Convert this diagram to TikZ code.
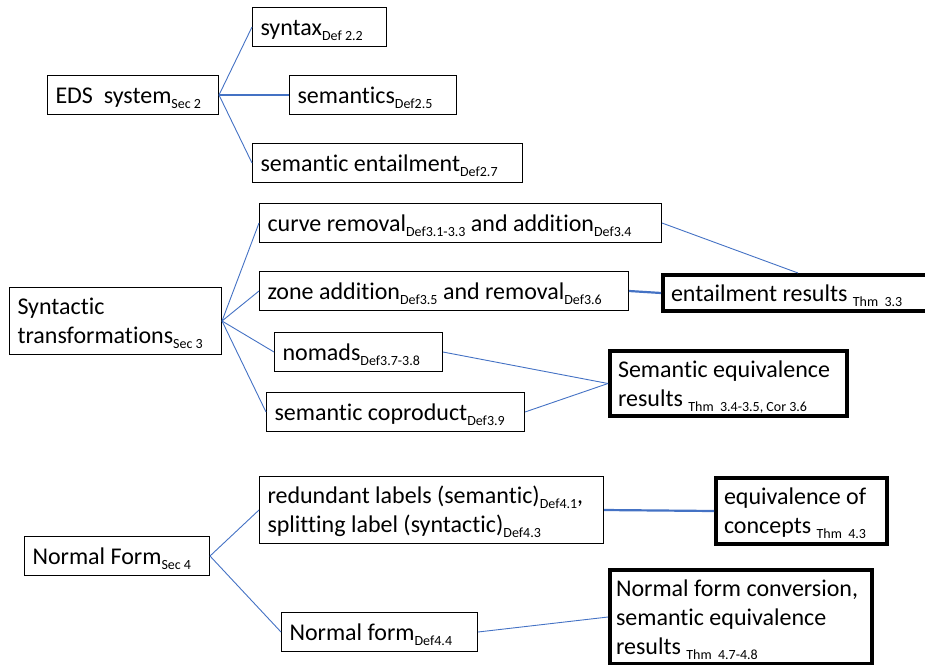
\documentclass[tikz,border=0pt]{standalone}
\usepackage{fontspec}
\setmainfont{Carlito}[Ligatures=NoCommon]
\usepackage{tikz}
\definecolor{linkblue}{HTML}{4472C4}
\newcommand{\boxstrut}{\rule[-6pt]{0pt}{28pt}}
\newcommand{\sbs}[1]{\boxstrut\raisebox{-5pt}[0pt][0pt]{\fontsize{14}{14}\selectfont\spaceskip0pt\relax #1}}

\begin{document}
\begin{tikzpicture}[
    x=1pt, y=-1pt,
    font=\fontsize{24}{29}\selectfont,
    box/.style={rectangle, draw, line width=1pt, anchor=north west, align=flush left, inner xsep=8pt, inner ysep=0pt, minimum height=39pt, text width=#1, execute at begin node={\hyphenpenalty10000 \boxstrut}},
    result/.style={box=#1, line width=4pt},
    link/.style={draw=linkblue, line width=0.9pt},
    mainlink/.style={link, line width=2.2pt},
]
    \useasboundingbox (0,0) rectangle (925,664);
    \clip (0,0) rectangle (925,664);

    % Sec 2
    \node[box=155pt] (eds) at (47,75) {EDS\ \ system\sbs{Sec 2}};
    \node[box=118pt] (syn) at (252,7) {syntax\sbs{Def 2.2}};
    \node[box=151pt] (sem) at (289,75) {semantics\sbs{Def2.5}};
    \node[box=254pt] (sement) at (252,143) {semantic entailment\sbs{Def2.7}};

    % Sec 3
    \node[box=196pt, minimum height=67pt] (synt) at (9,287) {Syntactic\\transformations\sbs{Sec 3}};
    \node[box=386pt] (curve) at (259,203) {curve removal\sbs{Def3.1-3.3} and addition\sbs{Def3.4}};
    \node[box=353pt] (zone) at (259,271) {zone addition\sbs{Def3.5} and removal\sbs{Def3.6}};
    \node[box=152pt] (nomads) at (274,332) {nomads\sbs{Def3.7-3.8}};
    \node[box=242pt] (coprod) at (266,392) {semantic coproduct\sbs{Def3.9}};
    \node[result=254pt, minimum height=36pt] (entres) at (661,273) {entailment results \sbs{Thm\ \ 3.3}};
    \node[result=221pt, minimum height=65pt] (semeq) at (608,349) {Semantic equivalence\\results \sbs{Thm\ \ 3.4-3.5, Cor 3.6}};

    % Sec 4
    \node[box=169pt] (nf) at (24,536) {Normal Form\sbs{Sec 4}};
    \node[box=328pt, minimum height=67pt] (redund) at (259,476) {redundant labels (semantic)\sbs{Def4.1},\\splitting label (syntactic)\sbs{Def4.3}};
    \node[box=180pt] (nfdef) at (281,612) {Normal form\sbs{Def4.4}};
    \node[result=155pt, minimum height=66pt] (eqconc) at (714,476) {equivalence of\\concepts \sbs{Thm\ \ 4.3}};
    \node[result=250pt, inner xsep=6pt, minimum height=94pt] (nfconv) at (608,568) {Normal form conversion,\\semantic equivalence\\results \sbs{Thm\ \ 4.7-4.8}};

    \draw[link] (eds.east) -- (syn.west);
    \draw[mainlink] (eds.east) -- (sem.west);
    \draw[link] (eds.east) -- (sement.west);

    \draw[link] (synt.east) -- (curve.west);
    \draw[link] (synt.east) -- (zone.west);
    \draw[link] (synt.east) -- (nomads.west);
    \draw[link] (synt.east) -- (coprod.west);
    \draw[link] (curve.east) -- (entres.north);
    \draw[mainlink] (zone.east) -- (entres.west);
    \draw[link] (nomads.east) -- (semeq.west);
    \draw[link] (coprod.east) -- (semeq.west);

    \draw[link] (nf.east) -- (redund.west);
    \draw[link] (nf.east) -- (nfdef.west);
    \draw[mainlink] (redund.east) -- (eqconc.west);
    \draw[link] (nfdef.east) -- (nfconv.west);
\end{tikzpicture}
\end{document}
